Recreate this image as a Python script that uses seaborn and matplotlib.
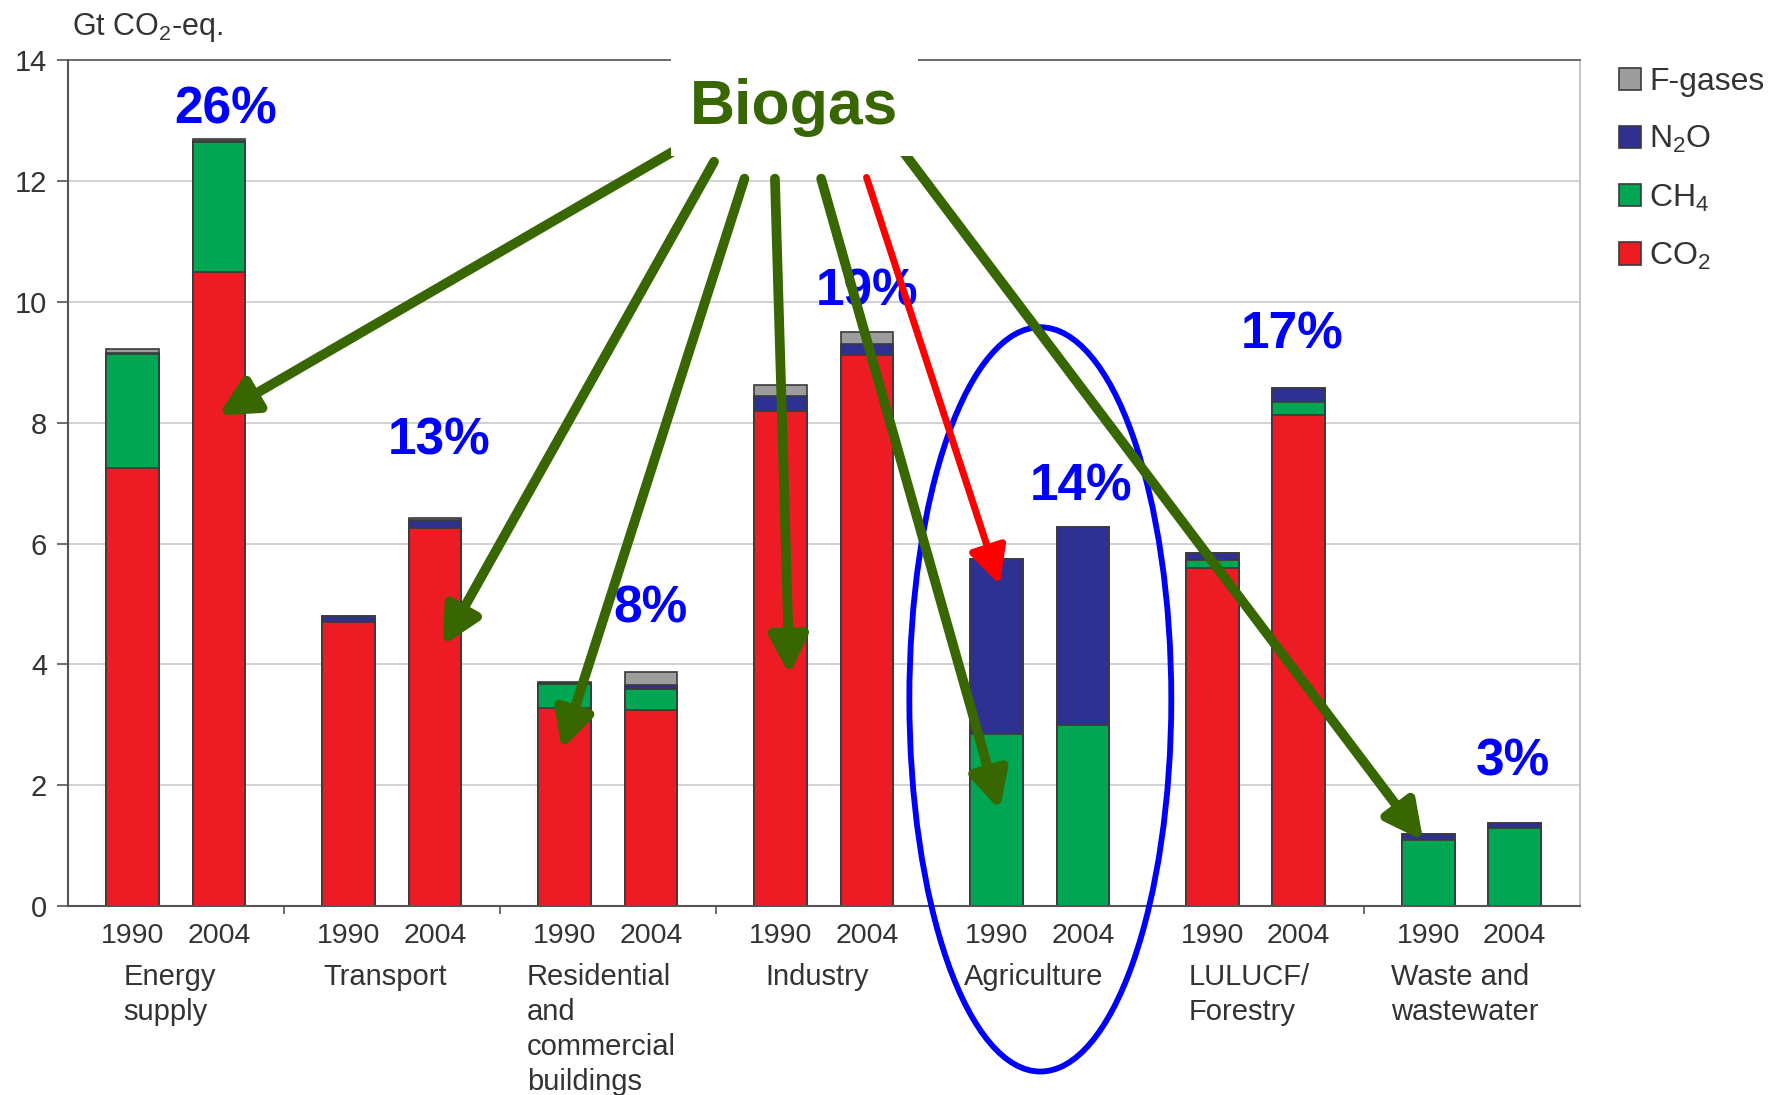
import matplotlib
matplotlib.use("Agg")
import matplotlib.pyplot as plt
import matplotlib.transforms as mtransforms
from matplotlib.patches import Ellipse, Patch
import seaborn as sns
import pandas as pd
import numpy as np

# ---------------- data ----------------
sectors = ["Energy supply", "Transport", "Residential and commercial buildings",
           "Industry", "Agriculture", "LULUCF/ Forestry", "Waste and wastewater"]
sector_labels = ["Energy\nsupply", "Transport", "Residential\nand\ncommercial\nbuildings",
                 "Industry", "Agriculture", "LULUCF/\nForestry", "Waste and\nwastewater"]
years = ["1990", "2004"]

co2_1990 = [7.25, 4.70, 3.27, 8.19, 0.00, 5.59, 0.00]
co2_2004 = [10.49, 6.26, 3.24, 9.12, 0.00, 8.13, 0.00]
ch4_1990 = [1.88, 0.00, 0.40, 0.00, 2.84, 0.13, 1.10]
ch4_2004 = [2.16, 0.00, 0.36, 0.00, 2.99, 0.22, 1.29]
n2o_1990 = [0.03, 0.10, 0.02, 0.25, 2.91, 0.13, 0.09]
n2o_2004 = [0.02, 0.13, 0.05, 0.19, 3.28, 0.22, 0.09]
fgas_1990 = [0.06, 0.00, 0.02, 0.18, 0.00, 0.00, 0.00]
fgas_2004 = [0.03, 0.04, 0.23, 0.19, 0.00, 0.00, 0.00]

pct_labels = ["26%", "13%", "8%", "19%", "14%", "17%", "3%"]

gas_names = ["F-gases", "N$_2$O", "CH$_4$", "CO$_2$"]
gas_colors = ["#9d9d9d", "#2e3192", "#00a651", "#ed1c24"]

# ---------------- style ----------------
sns.set_style("white")
plt.rcParams["font.family"] = ["Liberation Sans", "DejaVu Sans"]
plt.rcParams["mathtext.default"] = "regular"

fig = plt.figure(figsize=(17.69, 10.95), dpi=100)
ax = fig.add_axes([0.0384, 0.1726, 0.8545, 0.7724])

# cumulative layers (top layer first so lower layers overdraw)
l_co2 = (np.array(co2_1990), np.array(co2_2004))
l_ch4 = (l_co2[0] + np.array(ch4_1990), l_co2[1] + np.array(ch4_2004))
l_n2o = (l_ch4[0] + np.array(n2o_1990), l_ch4[1] + np.array(n2o_2004))
l_f = (l_n2o[0] + np.array(fgas_1990), l_n2o[1] + np.array(fgas_2004))
stack = [l_f, l_n2o, l_ch4, l_co2]

for (v90, v04), col in zip(stack, gas_colors):
    df = pd.DataFrame({
        "sector": sectors * 2,
        "year": [years[0]] * len(sectors) + [years[1]] * len(sectors),
        "value": list(v90) + list(v04),
    })
    sns.barplot(data=df, x="sector", y="value", hue="year", order=sectors,
                hue_order=years, palette=[col, col], saturation=1,
                dodge=True, width=0.8, gap=0.39, errorbar=None,
                edgecolor="#3a3a3a", linewidth=1.2, legend=False, ax=ax, zorder=2)

ax.set_xlim(-0.5, len(sectors) - 0.5)
ax.set_ylim(0, 14)
ax.set_yticks(np.arange(0, 15, 2))
ax.yaxis.grid(True, color="#cfcfcf", lw=1.3)
ax.set_axisbelow(True)
ax.set_xlabel("")
ax.set_ylabel("")

# x ticks: years under bars, minor ticks at group boundaries
xpos = []
xlab = []
for i in range(len(sectors)):
    xpos += [i - 0.2, i + 0.2]
    xlab += years
ax.set_xticks(xpos)
ax.set_xticklabels(xlab, fontsize=20.5, color="#333333")
ax.set_xticks(np.arange(0.5, len(sectors) - 0.5, 1), minor=True)
ax.tick_params(axis="x", which="major", length=0, pad=12)
ax.tick_params(axis="x", which="minor", length=6, width=1.2, color="#555555", direction="out")
ax.tick_params(axis="y", length=8, width=1.2, color="#555555", direction="out",
               labelsize=21, labelcolor="#333333", pad=7)
ax.yaxis.set_ticks_position("left")
ax.xaxis.set_ticks_position("bottom")

for s in ["left", "bottom"]:
    ax.spines[s].set_color("#555555")
    ax.spines[s].set_linewidth(1.5)
ax.spines["top"].set_color("#555555")
ax.spines["top"].set_linewidth(1.2)
ax.spines["right"].set_color("#bbbbbb")
ax.spines["right"].set_linewidth(1.2)

# sector names
trans = mtransforms.blended_transform_factory(ax.transData, ax.transAxes)
for i, lab in enumerate(sector_labels):
    ax.text(i - 0.03, -0.067, lab, transform=trans, ha="center", va="top",
            multialignment="left", fontsize=21, color="#333333", linespacing=1.32)

# y unit label
fig.text(0.0407, 0.975, "Gt CO$_2$-eq.", fontsize=22, color="#333333", ha="left", va="center")

# legend
handles = [Patch(facecolor=c, edgecolor="#3a3a3a", linewidth=1.2) for c in gas_colors]
fig.legend(handles, gas_names, loc="upper left", bbox_to_anchor=(0.899, 0.965),
           frameon=False, fontsize=23, handlelength=0.7, handleheight=0.7,
           handletextpad=0.25, labelspacing=0.85, labelcolor="#333333")

# percentage annotations
pct_x = [0.232, 1.22, 2.20, 3.20, 4.19, 5.17, 6.19]
pct_y = [13.18, 7.69, 4.91, 10.17, 6.94, 9.45, 2.39]
for lab, x, y in zip(pct_labels, pct_x, pct_y):
    ax.text(x, y, lab, fontsize=37, fontweight="bold", color="#0000ff",
            ha="center", va="center", zorder=5)

# ellipse around agriculture
ax.add_patch(Ellipse((4.003, 3.42), 1.213, 12.32, fill=False, ec="#0000ff",
                     lw=4.2, clip_on=False, zorder=6))

# arrows from Biogas
green = "#386600"
arrows_green = [((2.356, 12.60), (0.196, 8.12)),
                ((2.492, 12.32), (1.236, 4.31)),
                ((2.633, 12.04), (1.786, 2.59)),
                ((2.774, 12.04), (2.842, 3.83)),
                ((2.988, 12.04), (3.815, 1.59)),
                ((3.344, 12.60), (5.776, 1.08))]
for start, end in arrows_green:
    ax.annotate("", xy=end, xytext=start,
                arrowprops=dict(arrowstyle="-|>,head_length=0.75,head_width=0.38",
                                lw=7, color=green, shrinkA=0, shrinkB=0,
                                mutation_scale=30),
                zorder=7, annotation_clip=False)
ax.annotate("", xy=(3.815, 5.32), xytext=(3.198, 12.06),
            arrowprops=dict(arrowstyle="-|>,head_length=0.75,head_width=0.38",
                            lw=5, color="#ff0000", shrinkA=0, shrinkB=0,
                            mutation_scale=30),
            zorder=7, annotation_clip=False)

# Biogas label
fig.text(0.449, 0.902, "Biogas", fontsize=45, fontweight="bold", color=green,
         ha="center", va="center", zorder=10,
         bbox=dict(facecolor="white", edgecolor="none", pad=14))

fig.savefig("out.png", dpi=100)
